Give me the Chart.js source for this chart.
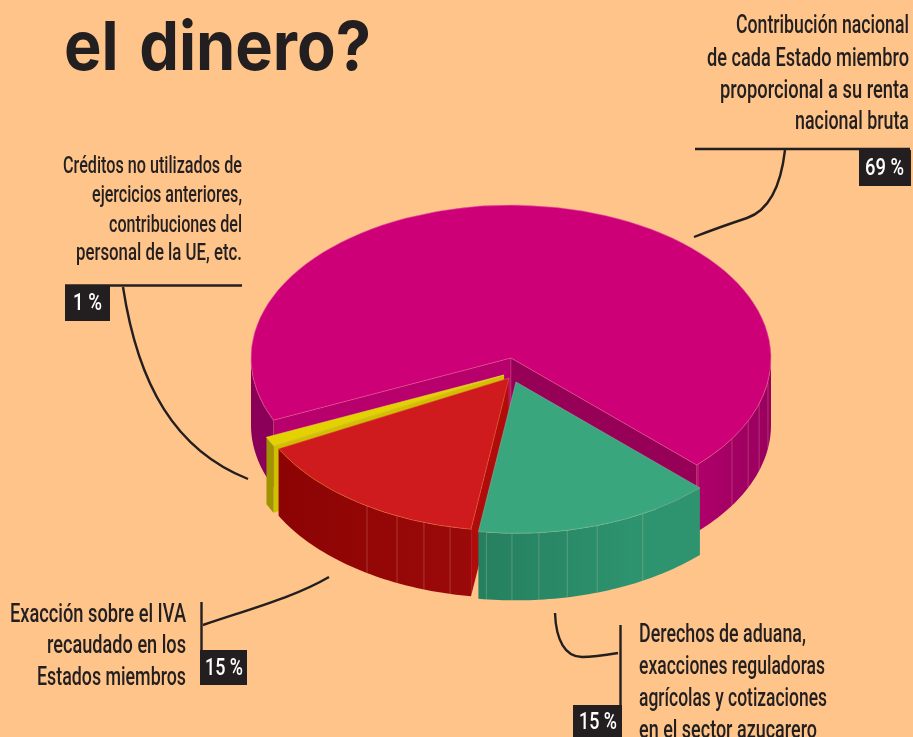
<!DOCTYPE html>
<html lang="es">
<head>
<meta charset="utf-8">
<script src="https://cdn.jsdelivr.net/npm/chart.js@4"></script>
<style>
html,body{margin:0;padding:0;width:913px;height:737px;overflow:hidden;background:#FEC48A;}
#wrap{position:relative;width:913px;height:737px;overflow:hidden;}
canvas{position:absolute;left:0;top:0;}
.t{position:absolute;white-space:nowrap;transform-origin:0 0;line-height:normal;}
.b{position:absolute;background:#231f20;}
</style>
</head>
<body>
<div id="wrap"><canvas id="c" width="913" height="737"></canvas></div>
<script>
// ---- data ----
const categories = [
  "Contribución nacional de cada Estado miembro proporcional a su renta nacional bruta",
  "Derechos de aduana, exacciones reguladoras agrícolas y cotizaciones en el sector azucarero",
  "Exacción sobre el IVA recaudado en los Estados miembros",
  "Créditos no utilizados de ejercicios anteriores, contribuciones del personal de la UE, etc."
];
const shares = [69, 15, 15, 1];
const topColors = ["#CE0078", "#39A67E", "#CF1A1E", "#E2D200"];
const edgeColors = ["#E8609F", "#7FBF9F", "#E8663A", "#F0E040"];
const startCutColors = ["#B8006C", "#2E9470", "#B00C0C", "#D0C000"];
const endCutColors = ["#960056", "#2E9470", "#8C0303", "#A09300"];
// gradient of the outer wall across the width of the pie
const wallStops = [
  [[0,"#8A0058"],[0.1,"#8C0058"],[0.85,"#B0006A"],[1,"#98005E"]],
  [[0.43,"#25805F"],[0.75,"#2E9470"]],
  [[0,"#8A0202"],[0.45,"#9C0A0A"]],
  [[0,"#A09300"],[1,"#A09300"]]
];
// lighter seams on the wall, degrees clockwise from 3 o'clock
const seams = [
  [8.8, 17.4, 24.2, 31.8, 44],
  [60.5, 71.6, 78.5, 84.9, 90.9, 96.6],
  [103.1, 109.1, 115.5, 123.1],
  []
];
const explodeX = [0, 5, -2, -7];
const explodeY = [0, 24, 20, 17];
const sliceScale = [1, 0.99, 1, 1];
const drawOrder = [0, 3, 2, 1];
const rotationDeg = 246;
const tilt = 0.588;
const depth = 67;
const pieRadius = 260;

// annotations
const leaders = [
  [[695,149],[910,149]],
  [[65,285.5],[242,285.5]],
  [[201.5,602],[201.5,685]],
  [[620.5,625],[620.5,705]]
];
// start point, then cubic segments (c1x,c1y,c2x,c2y,x,y)
const curves = [
  [[785,150],[781,185,770,210,747,218],[729,224,712,230,694,237]],
  [[123,287],[138,385,175,450,248,479]],
  [[203,625],[250,609,295,597,329,577]],
  [[618,653],[600,656,591,657,582,657],[565,657,556,640,555,613]]
];
const badges = [[859,150,52,36],[65,286,45,35],[200,650,47,35],[573,705,49,32]];
const textFont = '"Roboto","Liberation Sans",sans-serif';
// text, left, right, baseline, size, colour, weight, font
const ink = "#231f20";
const textLines = [
  ["el dinero?",64,371,70,68,ink,700,'Inter,Roboto,sans-serif'],
  ["Contribución nacional",736,909,33,26,ink,500],
  ["de cada Estado miembro",707,909,66,26,ink,500],
  ["proporcional a su renta",720,909,98,26,ink,500],
  ["nacional bruta",795,909,129,26,ink,500],
  ["Créditos no utilizados de",63,242,173,23,ink,500],
  ["ejercicios anteriores,",92,242,202,23,ink,500],
  ["contribuciones del",109,242,232,23,ink,500],
  ["personal de la UE, etc.",76,242,260,23,ink,500],
  ["Exacción sobre el IVA",10,186,622,26,ink,500],
  ["recaudado en los",47,186,653,26,ink,500],
  ["Estados miembros",37,186,685,26,ink,500],
  ["Derechos de aduana,",639,806,642,25,ink,500],
  ["exacciones reguladoras",639,825,674,25,ink,500],
  ["agrícolas y cotizaciones",639,827,706,25,ink,500],
  ["en el sector azucarero",639,817,738,25,ink,500],
  ["69 %",865,904,175,23,"#fff",500],
  ["1 %",73,102,310,23,"#fff",500],
  ["15 %",205,243,675,23,"#fff",500],
  ["15 %",579,617,729,23,"#fff",500]
];

// ---- 3D pie plugin ----
const RAD = Math.PI/180;
function wallPath(ctx,cx,cy,r,a0,a1){
  const n = Math.max(2,Math.ceil((a1-a0)/0.02));
  ctx.beginPath();
  for(let i=0;i<=n;i++){const a=a0+(a1-a0)*i/n;ctx.lineTo(cx+r*Math.cos(a),cy+r*tilt*Math.sin(a));}
  for(let i=n;i>=0;i--){const a=a0+(a1-a0)*i/n;ctx.lineTo(cx+r*Math.cos(a),cy+r*tilt*Math.sin(a)+depth);}
  ctx.closePath();
}
function cutWall(ctx,cx,cy,r,a,fill,line){
  const px=cx+r*Math.cos(a),py=cy+r*tilt*Math.sin(a);
  ctx.beginPath();ctx.moveTo(cx,cy);ctx.lineTo(px,py);ctx.lineTo(px,py+depth);ctx.lineTo(cx,cy+depth);ctx.closePath();
  ctx.fillStyle=fill;ctx.fill();
  ctx.beginPath();ctx.moveTo(cx,cy);ctx.lineTo(cx,cy+depth);ctx.moveTo(px,py);ctx.lineTo(px,py+depth);
  ctx.strokeStyle=line;ctx.lineWidth=0.6;ctx.stroke();
}
const pie3d = {
  id:"pie3d",
  beforeDatasetsDraw(chart){
    const ctx=chart.ctx, arcs=chart.getDatasetMeta(0).data;
    for(const i of drawOrder){
      const arc=arcs[i];
      const f=sliceScale[i], r=arc.outerRadius*f;
      const cx=arc.x+explodeX[i], cy=arc.y+explodeY[i];
      const a0=arc.startAngle, a1=arc.endAngle;
      ctx.save();
      if(Math.sin(a0-Math.PI/2)>0) cutWall(ctx,cx,cy,r,a0,startCutColors[i],"rgba(255,190,190,.3)");
      if(Math.sin(a1+Math.PI/2)>0) cutWall(ctx,cx,cy,r,a1,endCutColors[i],"rgba(255,190,190,.3)");
      const g=ctx.createLinearGradient(cx-r,0,cx+r,0);
      wallStops[i].forEach(s=>g.addColorStop(s[0],s[1]));
      for(const k of [0,1]){
        const lo=Math.max(a0,k*2*Math.PI), hi=Math.min(a1,k*2*Math.PI+Math.PI);
        if(hi>lo){wallPath(ctx,cx,cy,r,lo,hi);ctx.fillStyle=g;ctx.fill();}
      }
      ctx.strokeStyle="rgba(255,215,170,.3)";ctx.lineWidth=0.8;
      seams[i].forEach(d=>{
        const a=d*RAD, x=cx+r*Math.cos(a), y=cy+r*tilt*Math.sin(a);
        ctx.beginPath();ctx.moveTo(x,y);ctx.lineTo(x,y+depth);ctx.stroke();
      });
      ctx.translate(cx,cy);ctx.scale(f,f*tilt);ctx.translate(-arc.x,-arc.y);
      arc.draw(ctx);
      ctx.restore();
    }
    return false;
  },
  afterDraw(chart){
    const ctx=chart.ctx;
    ctx.save();
    ctx.strokeStyle=ink;ctx.lineWidth=2.4;ctx.lineCap="butt";
    leaders.forEach(l=>{ctx.beginPath();ctx.moveTo(l[0][0],l[0][1]);ctx.lineTo(l[1][0],l[1][1]);ctx.stroke();});
    curves.forEach(c=>{
      ctx.beginPath();ctx.moveTo(c[0][0],c[0][1]);
      for(let i=1;i<c.length;i++) ctx.bezierCurveTo(...c[i]);
      ctx.stroke();
    });
    ctx.restore();
  }
};

new Chart(document.getElementById("c"),{
  type:"pie",
  data:{labels:categories,datasets:[{data:shares,backgroundColor:topColors,borderColor:edgeColors,borderWidth:0.7}]},
  options:{
    responsive:false,animation:false,rotation:rotationDeg,radius:pieRadius,
    layout:{padding:{left:109,right:0,top:0,bottom:21}},
    events:[],
    plugins:{legend:{display:false},tooltip:{enabled:false},title:{display:false}}
  },
  plugins:[pie3d]
});

// ---- text and badges ----
const wrap=document.getElementById("wrap");
badges.forEach(b=>{const d=document.createElement("div");d.className="b";
  d.style.cssText=`left:${b[0]}px;top:${b[1]}px;width:${b[2]}px;height:${b[3]}px`;wrap.appendChild(d);});
const mctx=document.createElement("canvas").getContext("2d");
textLines.forEach(l=>{
  const [txt,x0,x1,base,size,col,wt,fam]=l;
  const family=fam||textFont;
  const s=document.createElement("span");s.className="t";s.textContent=txt;
  s.style.fontFamily=family;s.style.fontSize=size+"px";s.style.fontWeight=wt;s.style.color=col;
  if(size>40) s.style.wordSpacing="6px";
  wrap.appendChild(s);
  mctx.font=`${wt} ${size}px ${family}`;
  const asc=mctx.measureText(txt).fontBoundingBoxAscent;
  s.style.left=x0+"px";s.style.top=(base-asc)+"px";
  const w=s.getBoundingClientRect().width;
  s.style.transform=`scaleX(${(x1-x0)/w})`;
});
</script>
</body>
</html>
